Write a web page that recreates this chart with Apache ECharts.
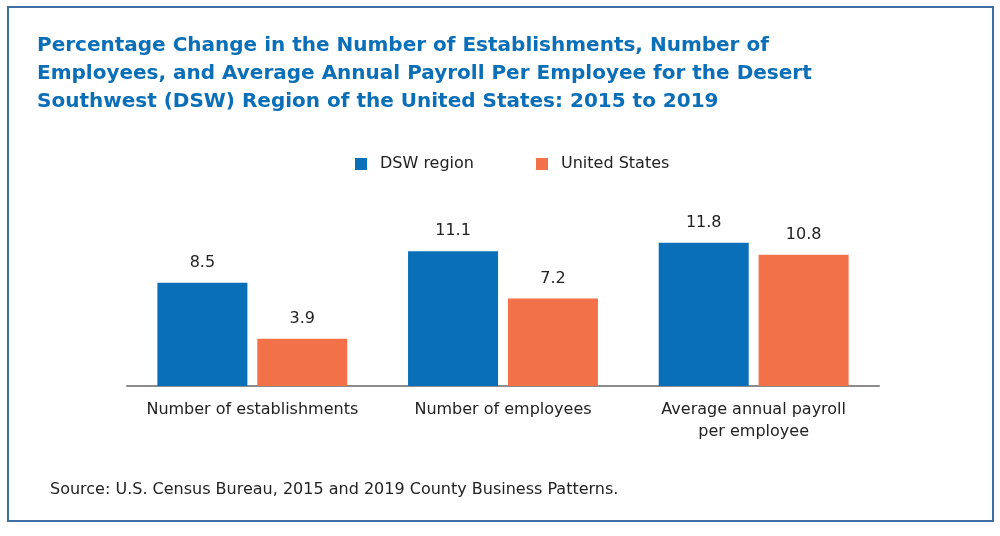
<!DOCTYPE html>
<html>
<head>
<meta charset="utf-8">
<script src="https://cdn.jsdelivr.net/npm/echarts@6/dist/echarts.min.js"></script>
<style>
  html, body { margin: 0; padding: 0; background: #fff; }
  #main { width: 1000px; height: 536px; }
</style>
</head>
<body>
<div id="main"></div>
<script>
// chart data
var categories = ['Number of establishments', 'Number of employees', 'Average annual payroll\nper employee'];
var seriesNames = ['DSW region', 'United States'];
var dswValues = [8.5, 11.1, 11.8];
var usValues = [3.9, 7.2, 10.8];

var blue = '#0a6fb9';
var orange = '#f37148';
var fontFam = '"DejaVu Sans", "Noto Sans", sans-serif';

var labelStyle = {
    show: true,
    position: 'top',
    distance: 12,
    color: '#222',
    fontSize: 16,
    fontFamily: fontFam,
    formatter: function (p) { return p.value.toFixed(1); }
};

var option = {
    backgroundColor: '#fff',
    animation: false,
    title: {
        text: 'Percentage Change in the Number of Establishments, Number of\nEmployees, and Average Annual Payroll Per Employee for the Desert\nSouthwest (DSW) Region of the United States: 2015 to 2019',
        left: 32,
        top: 27,
        textStyle: {
            color: '#0b6fb8',
            fontSize: 20,
            fontWeight: 'bold',
            fontFamily: fontFam,
            lineHeight: 28
        }
    },
    // frame around the figure
    graphic: [
        {
            type: 'rect',
            shape: { x: 8, y: 7, width: 985, height: 514 },
            style: { fill: 'none', stroke: '#3f6ea6', lineWidth: 2 },
            silent: true
        },
        {
            type: 'text',
            left: 50,
            top: 482,
            style: {
                text: 'Source: U.S. Census Bureau, 2015 and 2019 County Business Patterns.',
                fill: '#222',
                fontSize: 16,
                fontFamily: fontFam
            }
        }
    ],
    legend: {
        data: seriesNames,
        top: 151,
        left: 350,
        itemWidth: 12,
        itemHeight: 12,
        itemGap: 62,
        icon: 'rect',
        textStyle: { color: '#222', fontSize: 16, fontFamily: fontFam, padding: [0, 0, 0, 8] }
    },
    grid: {
        left: 127,
        right: 121,
        top: 216,
        bottom: 150,
        containLabel: false
    },
    xAxis: {
        type: 'category',
        data: categories,
        axisTick: { show: false },
        axisLine: { show: true, lineStyle: { color: '#8c8c8c', width: 2 } },
        axisLabel: {
            color: '#222',
            fontSize: 16,
            fontFamily: fontFam,
            margin: 13,
            lineHeight: 22,
            interval: 0
        }
    },
    yAxis: {
        type: 'value',
        min: 0,
        max: 14,
        show: false,
        splitLine: { show: false }
    },
    series: [
        {
            name: seriesNames[0],
            type: 'bar',
            data: dswValues,
            barWidth: 90,
            barGap: '11%',
            itemStyle: { color: blue },
            label: labelStyle
        },
        {
            name: seriesNames[1],
            type: 'bar',
            data: usValues,
            barWidth: 90,
            barGap: '11%',
            itemStyle: { color: orange },
            label: labelStyle
        }
    ]
};

var chart = echarts.init(document.getElementById('main'));
chart.setOption(option);
</script>
</body>
</html>
